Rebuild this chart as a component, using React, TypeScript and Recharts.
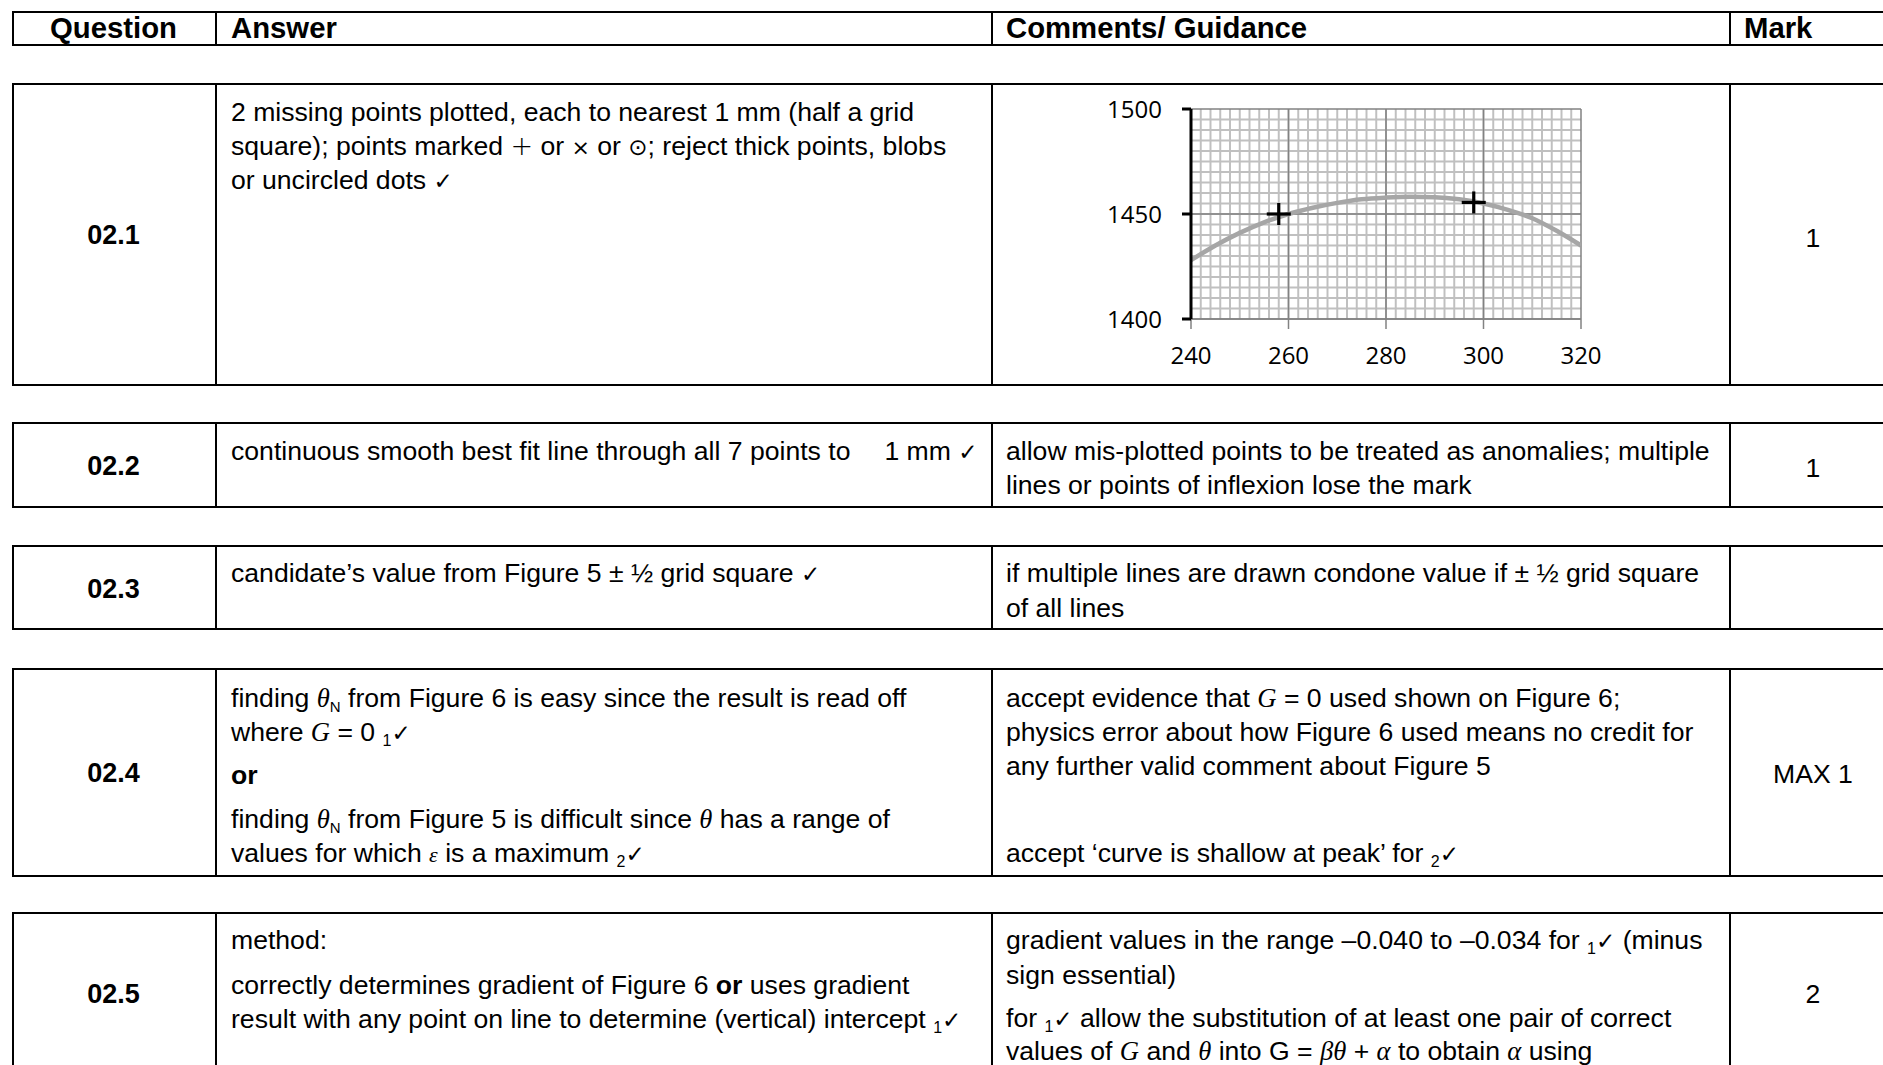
import React from 'react';
import { ComposedChart, Line, Scatter, XAxis, YAxis, ReferenceLine } from 'recharts';

// curve of epsilon against theta
const thetaCurve = [240, 245, 250, 255, 260, 265, 270, 275, 280, 285, 290, 295, 300, 305, 310, 315, 320];
const epsCurve = [1428, 1435, 1441, 1446, 1450, 1453, 1455.3, 1457, 1457.8, 1458.2, 1458, 1457, 1455, 1452, 1448, 1442, 1435];

// the two plotted points
const thetaPoints = [258, 298];
const epsPoints = [1450, 1455.5];

const xTicks = [240, 260, 280, 300, 320];
const yTicks = [1400, 1450, 1500];
const xMajor = [260, 280, 300, 320];
const yMajor = [1400, 1450, 1500];
const xMinor = Array.from({ length: 39 }, (_, i) => 242 + i * 2);
const yMinor = Array.from({ length: 19 }, (_, i) => 1405 + i * 5);

const curveData = thetaCurve.map((t, i) => ({ theta: t, eps: epsCurve[i] }));
const pointData = thetaPoints.map((t, i) => ({ theta: t, eps: epsPoints[i] }));

const BODY = '"Liberation Sans", Arial, sans-serif';
const SERIF = '"Liberation Serif", "Times New Roman", serif';
const SYM = '"DejaVu Sans", sans-serif';

const Plus = (props: any) => {
  const { cx, cy } = props;
  return (
    <g>
      <line x1={cx - 12} y1={cy} x2={cx + 12} y2={cy} stroke="#000" strokeWidth={3.2} />
      <line x1={cx} y1={cy - 11} x2={cx} y2={cy + 11} stroke="#000" strokeWidth={3.2} />
    </g>
  );
};

const MiniChart = () => (
  <div style={{ position: 'absolute', left: 1090, top: 90, width: 530, height: 290 }}>
    <ComposedChart width={530} height={290} data={curveData} margin={{ top: 19, right: 39, left: 0, bottom: 21 }}>
      {xMinor.map(v => (
        <ReferenceLine key={'xm' + v} x={v} stroke="#c0c0c0" strokeWidth={2} />
      ))}
      {yMinor.map(v => (
        <ReferenceLine key={'ym' + v} y={v} stroke="#c0c0c0" strokeWidth={2} />
      ))}
      {xMajor.map(v => (
        <ReferenceLine key={'xM' + v} x={v} stroke="#828282" strokeWidth={1.5} />
      ))}
      {yMajor.map(v => (
        <ReferenceLine key={'yM' + v} y={v} stroke="#828282" strokeWidth={1.5} />
      ))}
      <XAxis
        type="number"
        dataKey="theta"
        domain={[240, 320]}
        ticks={xTicks}
        height={40}
        tickSize={10}
        tickMargin={18}
        axisLine={{ stroke: '#828282', strokeWidth: 1.5 }}
        tickLine={{ stroke: '#828282', strokeWidth: 1.5 }}
        tick={{ fontSize: 24, fill: '#000', fontFamily: '"Open Sans", sans-serif' }}
        allowDataOverflow
      />
      <YAxis
        type="number"
        domain={[1400, 1500]}
        ticks={yTicks}
        width={101}
        tickSize={9}
        tickMargin={20}
        axisLine={{ stroke: '#000', strokeWidth: 3 }}
        tickLine={{ stroke: '#000', strokeWidth: 3 }}
        tick={{ fontSize: 24, fill: '#000', fontFamily: '"Open Sans", sans-serif' }}
        allowDataOverflow
      />
      <Line type="monotone" dataKey="eps" stroke="#a6a6a6" strokeWidth={4.5} dot={false} isAnimationActive={false} />
      <Scatter data={pointData} dataKey="eps" shape={<Plus />} isAnimationActive={false} />
    </ComposedChart>
  </div>
);

const LEFT = 12;
const C1 = 215;
const C2 = 991;
const C3 = 1729;
const RIGHT = 1897;

const Box = ({ top, h }: { top: number; h: number }) => (
  <>
    <div style={{ position: 'absolute', left: LEFT, top, width: RIGHT - LEFT, height: h, borderTop: '2px solid #000', borderBottom: '2px solid #000', borderLeft: '2px solid #000', boxSizing: 'border-box' }} />
    {[C1, C2, C3].map(x => (
      <div key={x} style={{ position: 'absolute', left: x, top, width: 1.5, height: h, background: '#000' }} />
    ))}
  </>
);

const T = ({ x, y, center, bold, size, lh, children }: any) => {
  const l = lh || 34;
  return (
    <div
      style={{
        position: 'absolute',
        left: center ? x - 200 : x,
        width: center ? 400 : undefined,
        textAlign: center ? 'center' : 'left',
        top: y - l / 2,
        height: l,
        lineHeight: l + 'px',
        fontSize: size || 26.6,
        fontWeight: bold ? 'bold' : 'normal',
        whiteSpace: 'nowrap',
        fontFamily: BODY,
        color: '#000',
      }}
    >
      {children}
    </div>
  );
};

const Sub = ({ children }: any) => (
  <span style={{ fontSize: 16, verticalAlign: -5, lineHeight: '16px' }}>{children}</span>
);
const Tick = () => <span style={{ fontFamily: SYM, fontSize: 23, lineHeight: '20px' }}>✓</span>;
const It = ({ children }: any) => <span style={{ fontFamily: SERIF, fontStyle: 'italic' }}>{children}</span>;
const Theta = () => <span style={{ fontFamily: SERIF, fontStyle: 'italic' }}>θ</span>;
const ThetaN = () => (
  <span>
    <Theta />
    <span style={{ fontSize: 15, verticalAlign: -5, lineHeight: '15px' }}>N</span>
  </span>
);

const QX = (LEFT + C1) / 2;
const AX = 231;
const CX = 1006;
const MX = (C3 + RIGHT) / 2;

export default function App() {
  return (
    <div style={{ position: 'absolute', left: 0, top: 0, width: 1883, height: 1065, overflow: 'hidden', background: '#fff' }}>
      {/* header */}
      <Box top={11} h={35} />
      <T x={QX} y={28} center bold size={29.3}>Question</T>
      <T x={AX} y={28} bold size={29.3}>Answer</T>
      <T x={CX} y={28} bold size={29.3}>Comments/ Guidance</T>
      <T x={1744} y={28} bold size={29.3}>Mark</T>

      {/* 02.1 */}
      <Box top={83} h={303} />
      <T x={QX} y={235} center bold size={27}>02.1</T>
      <T x={AX} y={112}>2 missing points plotted, each to nearest 1 mm (half a grid</T>
      <T x={AX} y={146}>square); points marked <span style={{ fontFamily: SYM, fontWeight: 200, fontSize: 27 }}>+</span> or <span style={{ fontFamily: SYM, fontSize: 22 }}>×</span> or <span style={{ fontFamily: SYM, fontSize: 23 }}>⊙</span>; reject thick points, blobs</T>
      <T x={AX} y={180}>or uncircled dots <Tick /></T>
      <MiniChart />
      <T x={MX} y={238} center>1</T>

      {/* 02.2 */}
      <Box top={422} h={86} />
      <T x={QX} y={466} center bold size={27}>02.2</T>
      <T x={AX} y={451}>continuous smooth best fit line through all 7 points to<span style={{ marginLeft: 34 }}>1 mm</span> <Tick /></T>
      <T x={CX} y={451}>allow mis-plotted points to be treated as anomalies; multiple</T>
      <T x={CX} y={485}>lines or points of inflexion lose the mark</T>
      <T x={MX} y={468} center>1</T>

      {/* 02.3 */}
      <Box top={545} h={85} />
      <T x={QX} y={589} center bold size={27}>02.3</T>
      <T x={AX} y={573}>candidate’s value from Figure 5 ± ½ grid square <Tick /></T>
      <T x={CX} y={573}>if multiple lines are drawn condone value if ± ½ grid square</T>
      <T x={CX} y={608}>of all lines</T>

      {/* 02.4 */}
      <Box top={668} h={209} />
      <T x={QX} y={773} center bold size={27}>02.4</T>
      <T x={AX} y={698}>finding <ThetaN /> from Figure 6 is easy since the result is read off</T>
      <T x={AX} y={732}>where <It>G</It> = 0 <Sub>1</Sub><Tick /></T>
      <T x={AX} y={775} bold>or</T>
      <T x={AX} y={819}>finding <ThetaN /> from Figure 5 is difficult since <Theta />  has a range of</T>
      <T x={AX} y={853} lh={30}>values for which <span style={{ fontFamily: SERIF, fontStyle: 'italic', fontSize: 22 }}>ε</span> is a maximum <Sub>2</Sub><Tick /></T>
      <T x={CX} y={698}>accept evidence that <It>G</It> = 0 used shown on Figure 6;</T>
      <T x={CX} y={732}>physics error about how Figure 6 used means no credit for</T>
      <T x={CX} y={766}>any further valid comment about Figure 5</T>
      <T x={CX} y={853} lh={30}>accept ‘curve is shallow at peak’ for <Sub>2</Sub><Tick /></T>
      <T x={MX} y={774} center>MAX 1</T>

      {/* 02.5 */}
      <Box top={912} h={164} />
      <T x={QX} y={994} center bold size={27}>02.5</T>
      <T x={AX} y={940}>method:</T>
      <T x={AX} y={985}>correctly determines gradient of Figure 6 <b>or</b> uses gradient</T>
      <T x={AX} y={1019}>result with any point on line to determine (vertical) intercept <Sub>1</Sub><Tick /></T>
      <T x={CX} y={940}>gradient values in the range –0.040 to –0.034 for <Sub>1</Sub><Tick /> (minus</T>
      <T x={CX} y={975}>sign essential)</T>
      <T x={CX} y={1018}>for <Sub>1</Sub><Tick /> allow the substitution of at least one pair of correct</T>
      <T x={CX} y={1051} lh={26}>values of <It>G</It> and <Theta /> into G =  <It>βθ</It> + <It>α</It> to obtain <It>α</It> using</T>
      <T x={MX} y={994} center>2</T>
    </div>
  );
}
